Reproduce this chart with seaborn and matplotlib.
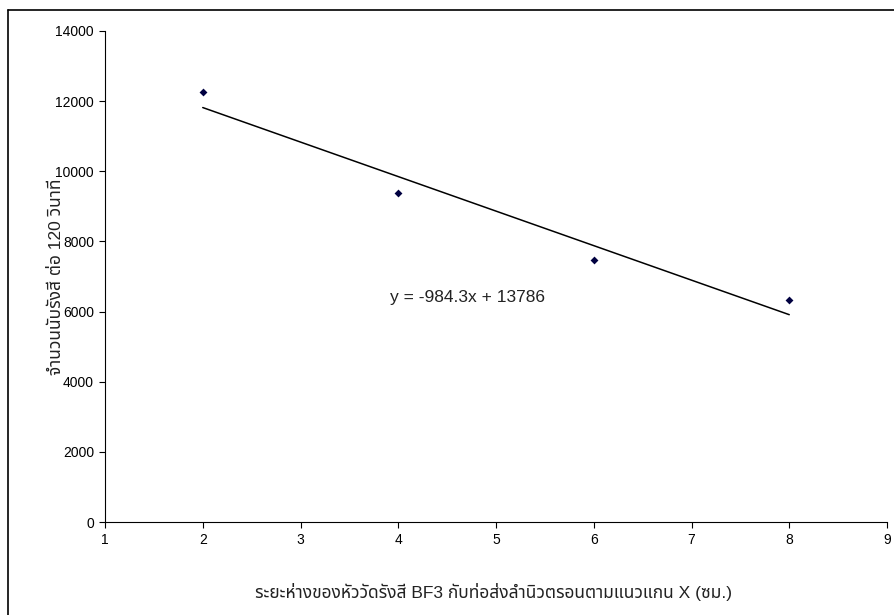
import numpy as np
import pandas as pd
import matplotlib
matplotlib.use('Agg')
import matplotlib.pyplot as plt
from matplotlib import font_manager
from matplotlib.lines import Line2D
import seaborn as sns

# data
distance_cm = [2, 4, 6, 8]
counts_120s = [12260, 9375, 7480, 6340]
slope, intercept = -984.3, 13786
eq_label = 'y = -984.3x + 13786'
x_label = 'ระยะห่างของหัววัดรังสี BF3 กับท่อส่งลำนิวตรอนตามแนวแกน X (ซม.)'
y_label = 'จำนวนนับรังสี ต่อ 120 วินาที'
x_ticks = [1, 2, 3, 4, 5, 6, 7, 8, 9]
y_ticks = [0, 2000, 4000, 6000, 8000, 10000, 12000, 14000]

sns.set_theme(style='white')

# Thai glyphs come from whichever Thai family is installed
installed = {f.name for f in font_manager.fontManager.ttflist}
thai_fonts = [n for n in ['Noto Sans Thai', 'Loma', 'Noto Sans Thai UI'] if n in installed]
plt.rcParams['font.family'] = ['Liberation Sans'] + thai_fonts + ['DejaVu Sans']

df = pd.DataFrame({'x': distance_cm, 'y': counts_120s})

fig = plt.figure(figsize=(8.94, 6.15), dpi=100)
ax = fig.add_axes([105 / 894, 1 - 522 / 615, 782 / 894, 491 / 615])

sns.scatterplot(data=df, x='x', y='y', ax=ax, marker='D', s=16,
                color='#000040', edgecolor='#000040', linewidth=0, zorder=3)

# linear trendline over the data range
xs = np.array([min(distance_cm), max(distance_cm)])
sns.lineplot(x=xs, y=slope * xs + intercept, ax=ax, color='black', linewidth=1.1)

ax.text(3.92, 6390, eq_label, fontsize=12.5, va='center', ha='left', color='#222222')

ax.set_xlim(1, 9)
ax.set_ylim(0, 14000)
ax.set_xticks(x_ticks)
ax.set_yticks(y_ticks)
ax.tick_params(axis='both', direction='out', length=4, width=0.8, color='black',
               labelsize=10, labelcolor='black', left=True, bottom=True, pad=4)
for side in ['top', 'right']:
    ax.spines[side].set_visible(False)
for side in ['left', 'bottom']:
    ax.spines[side].set_color('black')
    ax.spines[side].set_linewidth(0.8)

ax.set_xlabel(x_label, fontsize=12.5, color='#222222')
ax.set_ylabel(y_label, fontsize=12.5, color='#222222')
ax.xaxis.set_label_coords(0.497, -0.125)
ax.yaxis.set_label_coords(-0.052, 0.5)

# chart area border (only left and top edges fall inside the picture)
fig.add_artist(Line2D([8 / 894, 8 / 894], [0, 1 - 10 / 615], transform=fig.transFigure,
                      color='black', linewidth=1.2))
fig.add_artist(Line2D([8 / 894, 1], [1 - 10 / 615, 1 - 10 / 615], transform=fig.transFigure,
                      color='black', linewidth=1.2))

fig.savefig('out.png', dpi=100)
